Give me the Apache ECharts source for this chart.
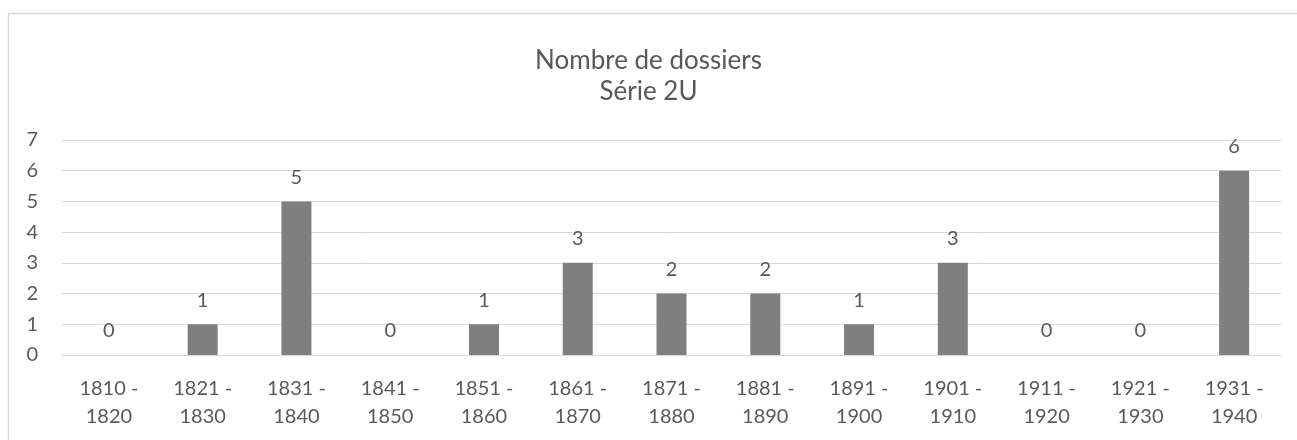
<!DOCTYPE html>
<html>
<head>
<meta charset="utf-8">
<script src="https://cdn.jsdelivr.net/npm/echarts@6/dist/echarts.min.js"></script>
<style>
    html, body { margin: 0; padding: 0; background: #fff; }
    #chart { width: 1297px; height: 440px; }
</style>
</head>
<body>
<div id="chart"></div>
<script>
    // tranches d'années
    var categories = ['1810 -\n1820', '1821 -\n1830', '1831 -\n1840', '1841 -\n1850', '1851 -\n1860',
        '1861 -\n1870', '1871 -\n1880', '1881 -\n1890', '1891 -\n1900', '1901 -\n1910',
        '1911 -\n1920', '1921 -\n1930', '1931 -\n1940'];
    // nombre de dossiers
    var dossiers = [0, 1, 5, 0, 1, 3, 2, 2, 1, 3, 0, 0, 6];

    var txtColor = '#595959';
    var chart = echarts.init(document.getElementById('chart'));
    chart.setOption({
        animation: false,
        textStyle: { fontFamily: 'Lato' },
        // cadre du graphique (seuls bords haut et gauche visibles)
        graphic: [{
            type: 'polyline',
            shape: { points: [[8.5, 440], [8.5, 13.5], [1297, 13.5]] },
            style: { fill: null, stroke: '#d9d9d9', lineWidth: 1.5 },
            silent: true
        }],
        title: {
            text: 'Nombre de dossiers\nSérie 2U',
            left: 'center',
            top: 40,
            textStyle: {
                color: txtColor,
                fontSize: 26,
                fontWeight: 'normal',
                lineHeight: 31
            }
        },
        grid: {
            left: 62,
            right: 16,
            top: 140,
            bottom: 85,
            containLabel: false
        },
        xAxis: {
            type: 'category',
            data: categories,
            axisLine: { show: true, lineStyle: { color: '#d9d9d9' } },
            axisTick: { show: false },
            axisLabel: {
                color: txtColor,
                fontSize: 20,
                lineHeight: 28,
                margin: 20,
                interval: 0
            }
        },
        yAxis: {
            type: 'value',
            min: 0,
            max: 7,
            interval: 1,
            axisLine: { show: false },
            axisTick: { show: false },
            axisLabel: { color: txtColor, fontSize: 20, margin: 24 },
            splitLine: { lineStyle: { color: '#d9d9d9' } }
        },
        series: [{
            type: 'bar',
            data: dossiers,
            barWidth: '32%',
            itemStyle: { color: '#7f7f7f' },
            label: {
                show: true,
                position: 'top',
                distance: 14,
                color: txtColor,
                fontSize: 20
            }
        }]
    });
</script>
</body>
</html>
